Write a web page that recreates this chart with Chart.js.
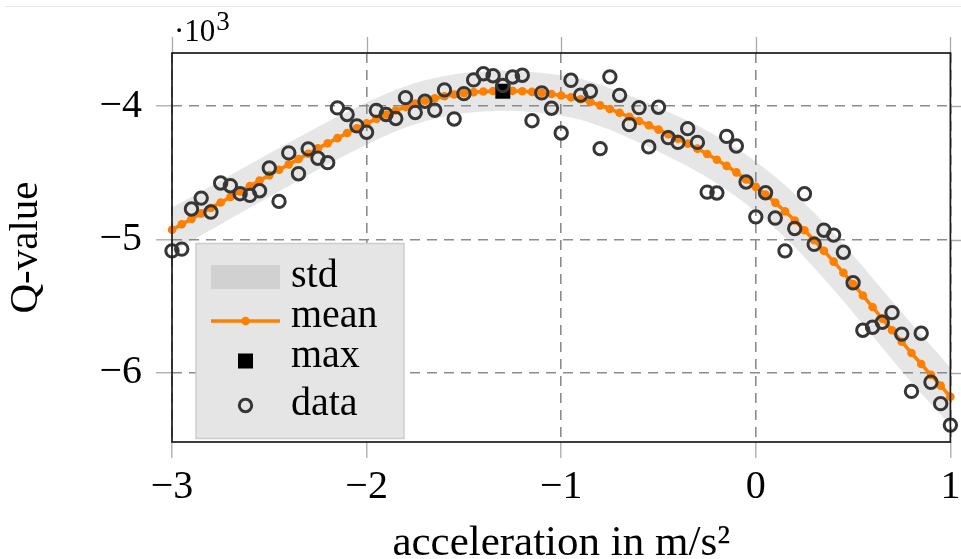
<!DOCTYPE html>
<html>
<head>
<meta charset="utf-8">
<script src="https://cdn.jsdelivr.net/npm/chart.js@4.4.1/dist/chart.umd.min.js"></script>
<style>
  html, body { margin: 0; padding: 0; background: #fff; }
  #wrap { width: 961px; height: 559px; }
</style>
</head>
<body>
<div id="wrap"><canvas id="chart" width="961" height="559"></canvas></div>
<script>
// values
const accel = [-3, -2.95, -2.9, -2.85, -2.8, -2.75, -2.7, -2.65, -2.6, -2.55,
  -2.5, -2.45, -2.4, -2.35, -2.3, -2.25, -2.2, -2.15, -2.1, -2.05,
  -2, -1.95, -1.9, -1.85, -1.8, -1.75, -1.7, -1.65, -1.6, -1.55,
  -1.5, -1.45, -1.4, -1.35, -1.3, -1.25, -1.2, -1.15, -1.1, -1.05,
  -1, -0.95, -0.9, -0.85, -0.8, -0.75, -0.7, -0.65, -0.6, -0.55,
  -0.5, -0.45, -0.4, -0.35, -0.3, -0.25, -0.2, -0.15, -0.1, -0.05,
  0, 0.05, 0.1, 0.15, 0.2, 0.25, 0.3, 0.35, 0.4, 0.45,
  0.5, 0.55, 0.6, 0.65, 0.7, 0.75, 0.8, 0.85, 0.9, 0.95, 1];

const qData = [-5085, -5072, -4771, -4689, -4794, -4576, -4596, -4656, -4669, -4634,
  -4463, -4714, -4350, -4506, -4320, -4390, -4423, -4012, -4062, -4147,
  -4195, -4031, -4062, -4092, -3935, -4047, -3962, -4030, -3877, -4095,
  -3905, -3802, -3756, -3771, -3844, -3780, -3767, -4108, -3899, -4015,
  -4200, -3805, -3916, -3887, -4318, -3779, -3918, -4138, -4010, -4305,
  -4007, -4235, -4271, -4168, -4271, -4644, -4651, -4226, -4298, -4568,
  -4830, -4649, -4839, -5085, -4917, -4657, -5036, -4930, -4967, -5096,
  -5325, -5681, -5659, -5621, -5549, -5710, -6140, -5704, -6072, -6232, -6393];

const qMean = [-4927, -4886, -4845, -4804, -4763, -4722, -4681, -4640, -4599, -4558,
  -4517, -4476, -4436, -4396, -4356, -4316, -4277, -4239, -4201, -4165,
  -4128, -4094, -4062, -4032, -4005, -3980, -3958, -3940, -3925, -3912,
  -3902, -3894, -3889, -3885, -3883, -3884, -3887, -3892, -3899, -3908,
  -3919, -3932, -3947, -3968, -3993, -4020, -4049, -4079, -4110, -4142,
  -4175, -4209, -4244, -4280, -4318, -4358, -4401, -4447, -4496, -4549,
  -4605, -4662, -4723, -4788, -4857, -4930, -5006, -5085, -5166, -5249,
  -5334, -5420, -5507, -5594, -5681, -5767, -5852, -5935, -6016, -6097, -6180];

const qStd = [165, 165, 165, 164, 164, 164, 164, 163, 163, 163,
  163, 162, 162, 162, 161, 161, 160, 160, 159, 159,
  158, 157, 157, 156, 155, 154, 154, 153, 152, 152,
  151, 151, 150, 150, 150, 150, 150, 150, 151, 151,
  152, 153, 154, 155, 156, 157, 158, 160, 161, 163,
  165, 167, 169, 171, 173, 175, 178, 180, 183, 185,
  188, 191, 194, 197, 200, 203, 206, 209, 211, 213,
  215, 217, 218, 219, 220, 220, 220, 220, 219, 218, 216];

const maxAccel = [-1.3];
const maxQ = [-3887];

const xTicks = [-3, -2, -1, 0, 1];
const yTicks = [-4000, -5000, -6000];
const legendLabels = ['std', 'mean', 'max', 'data'];

const serif = "'Liberation Serif', 'Times New Roman', serif";
const orange = '#ff8000';
const bandColor = 'rgba(128,128,128,0.2)';
const gridColor = '#8c8c8c';
const tickColor = '#aaaaaa';

const pts = (xs, ys) => xs.map((x, i) => ({ x: x, y: ys[i] }));
const fmt = v => (v < 0 ? '\u2212' + Math.abs(v) : String(v));
const upper = qMean.map((m, i) => m + qStd[i]);
const lower = qMean.map((m, i) => m - qStd[i]);

// frame, outer ticks on top/right, legend box and the 10^3 factor
const extras = {
  id: 'extras',
  afterDraw(chart) {
    const ctx = chart.ctx;
    const a = chart.chartArea;
    const xs = chart.scales.x, ys = chart.scales.y;
    const ds = chart.data.datasets;
    ctx.save();

    // thin rule at the very top of the picture
    ctx.strokeStyle = '#e6e6e6';
    ctx.lineWidth = 1;
    ctx.beginPath();
    ctx.moveTo(5, 6.5);
    ctx.lineTo(961, 6.5);
    ctx.stroke();

    ctx.strokeStyle = tickColor;
    ctx.lineWidth = 1.3;
    ctx.beginPath();
    xTicks.forEach(v => {
      const px = Math.round(xs.getPixelForValue(v)) + 0.5;
      ctx.moveTo(px, a.top);
      ctx.lineTo(px, a.top - 16);
    });
    yTicks.forEach(v => {
      const py = Math.round(ys.getPixelForValue(v)) + 0.5;
      ctx.moveTo(a.right, py);
      ctx.lineTo(a.right + 16, py);
    });
    ctx.stroke();

    ctx.strokeStyle = '#1a1a1a';
    ctx.lineWidth = 1.7;
    ctx.strokeRect(a.left, a.top, a.right - a.left, a.bottom - a.top);

    // legend
    const lx = 196, ly = 243.5, lw = 208, lh = 195;
    ctx.fillStyle = '#e5e5e5';
    ctx.fillRect(lx, ly, lw, lh);
    ctx.strokeStyle = '#cdcdcd';
    ctx.lineWidth = 1.5;
    ctx.strokeRect(lx, ly, lw, lh);

    const rows = [277, 321, 361, 405.5];
    const base = [287, 327, 367, 415];
    const sx0 = 211, sx1 = 280, scx = 245.5;

    ctx.fillStyle = ds[0].backgroundColor;
    ctx.fillRect(sx0, rows[0] - 12, sx1 - sx0, 24);

    ctx.strokeStyle = ds[2].borderColor;
    ctx.lineWidth = ds[2].borderWidth;
    ctx.beginPath();
    ctx.moveTo(sx0, rows[1]);
    ctx.lineTo(sx1, rows[1]);
    ctx.stroke();
    ctx.fillStyle = ds[2].pointBackgroundColor;
    ctx.beginPath();
    ctx.arc(scx, rows[1], ds[2].pointRadius, 0, Math.PI * 2);
    ctx.fill();

    ctx.fillStyle = ds[3].backgroundColor;
    ctx.fillRect(scx - 7.5, rows[2] - 7.5, 15, 15);

    ctx.strokeStyle = ds[4].borderColor;
    ctx.lineWidth = ds[4].borderWidth;
    ctx.beginPath();
    ctx.arc(scx, rows[3], ds[4].pointRadius, 0, Math.PI * 2);
    ctx.stroke();

    ctx.fillStyle = '#000';
    ctx.font = '40px ' + serif;
    ctx.textAlign = 'left';
    ctx.textBaseline = 'alphabetic';
    legendLabels.forEach((t, i) => ctx.fillText(t, 291, base[i]));

    // scale factor of the y axis
    ctx.font = '31px ' + serif;
    ctx.fillText('\u00B710', 174, 41);
    const w = ctx.measureText('\u00B710').width;
    ctx.font = '27px ' + serif;
    ctx.fillText('3', 174 + w + 1, 30);

    ctx.restore();
  }
};

const fixPad = s => { s.paddingLeft = 0; s.paddingRight = 0; };

new Chart(document.getElementById('chart'), {
  type: 'scatter',
  data: {
    datasets: [
      {
        label: 'std',
        data: pts(accel, upper),
        showLine: true,
        borderWidth: 0,
        borderColor: 'transparent',
        pointRadius: 0,
        backgroundColor: bandColor,
        fill: '+1',
        order: 5
      },
      {
        label: 'std-low',
        data: pts(accel, lower),
        showLine: true,
        borderWidth: 0,
        borderColor: 'transparent',
        pointRadius: 0,
        fill: false,
        order: 6
      },
      {
        label: 'mean',
        data: pts(accel, qMean),
        showLine: true,
        borderColor: orange,
        borderWidth: 3.6,
        pointRadius: 4.3,
        pointBorderWidth: 0,
        pointBackgroundColor: orange,
        clip: false,
        order: 3
      },
      {
        label: 'max',
        data: pts(maxAccel, maxQ),
        pointStyle: 'rect',
        pointRadius: 10.6,
        pointBorderWidth: 0,
        backgroundColor: '#000',
        clip: false,
        order: 2
      },
      {
        label: 'data',
        data: pts(accel, qData),
        pointStyle: 'circle',
        pointRadius: 6.2,
        borderWidth: 3,
        borderColor: '#363636',
        backgroundColor: 'rgba(0,0,0,0)',
        clip: false,
        order: 1
      }
    ]
  },
  options: {
    responsive: false,
    animation: false,
    devicePixelRatio: 1,
    layout: { padding: { top: 53, right: 10, left: 0, bottom: 0 } },
    plugins: {
      legend: { display: false },
      tooltip: { enabled: false }
    },
    scales: {
      x: {
        type: 'linear',
        min: -3,
        max: 1,
        afterBuildTicks: s => { s.ticks = xTicks.map(v => ({ value: v })); },
        afterFit: s => { s.height = 117; fixPad(s); },
        ticks: {
          color: '#000',
          font: { family: serif, size: 40 },
          padding: 5,
          maxRotation: 0,
          autoSkip: false,
          callback: v => fmt(v)
        },
        grid: {
          color: gridColor,
          lineWidth: 1.6,
          drawTicks: true,
          tickLength: 16,
          tickColor: tickColor,
          tickWidth: 1.3,
          tickBorderDash: []
        },
        border: { display: false, dash: [10, 7] },
        title: {
          display: true,
          text: 'acceleration in m/s\u00B2',
          color: '#000',
          font: { family: serif, size: 43, lineHeight: 0.72 },
          padding: 0
        }
      },
      y: {
        type: 'linear',
        min: -6520,
        max: -3600,
        afterBuildTicks: s => { s.ticks = yTicks.map(v => ({ value: v })); },
        afterFit: s => { s.width = 172; },
        ticks: {
          color: '#000',
          font: { family: serif, size: 40 },
          padding: 14,
          callback: v => fmt(v / 1000)
        },
        grid: {
          color: gridColor,
          lineWidth: 1.6,
          drawTicks: true,
          tickLength: 16,
          tickColor: tickColor,
          tickWidth: 1.3,
          tickBorderDash: []
        },
        border: { display: false, dash: [10, 7] },
        title: {
          display: true,
          text: 'Q-value',
          color: '#000',
          font: { family: serif, size: 41, lineHeight: 1.2 },
          padding: { top: 2, bottom: 0 }
        }
      }
    }
  },
  plugins: [extras]
});
</script>
</body>
</html>
